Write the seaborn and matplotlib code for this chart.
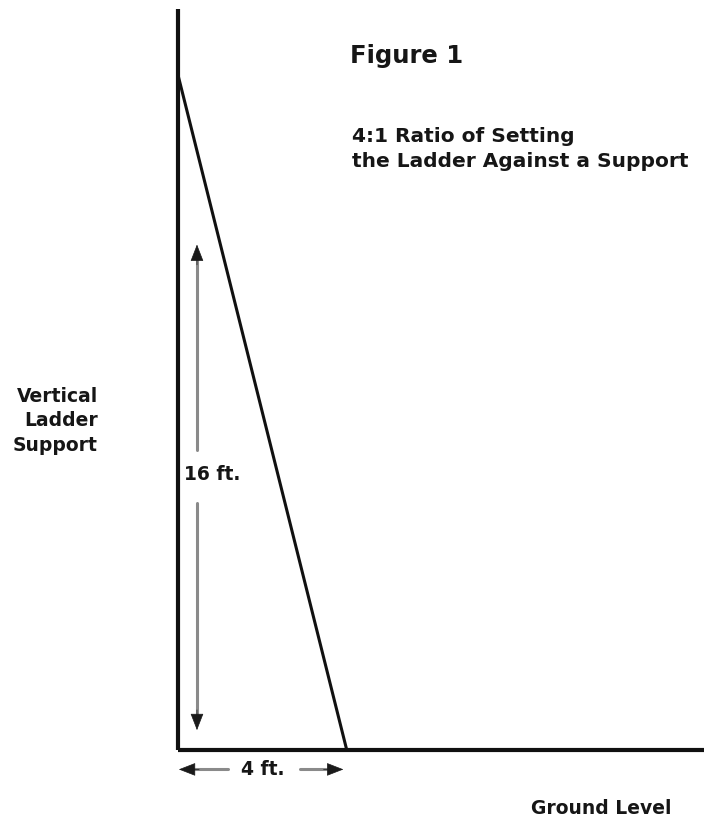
import matplotlib
matplotlib.use("Agg")
import matplotlib.pyplot as plt
import seaborn as sns

# ladder geometry in feet (4:1 ratio)
ladder_x = [0, 4]          # top of ladder against wall, foot of ladder on ground
ladder_y = [16, 0]
support_x = [0, 0]
support_y = [0, 17.56]
ground_x = [0, 12.47]
ground_y = [0, 0]

height_label = "16 ft."
base_label = "4 ft."

sns.set_theme(style="white")
plt.rcParams['font.family'] = ['DejaVu Sans']

fig = plt.figure(figsize=(7.13, 8.18), dpi=100)
ax = fig.add_axes([0, 0, 1, 1])

k = 42.19  # pixels per foot
ax.set_xlim(-178 / k, (713 - 178) / k)
ax.set_ylim(-68 / k, 750 / k)

# --- structure lines ---
sns.lineplot(x=support_x, y=support_y, sort=False, estimator=None,
             color="#111111", linewidth=3.0, ax=ax)
sns.lineplot(x=ground_x, y=ground_y, sort=False, estimator=None,
             color="#111111", linewidth=3.0, ax=ax)
sns.lineplot(x=ladder_x, y=ladder_y, sort=False, estimator=None,
             color="#111111", linewidth=2.2, ax=ax)
for ln in ax.lines:
    ln.set_solid_capstyle("butt")

# --- dimension arrows ---
shaft = "#8a8a8a"
head = "#1a1a1a"
txt = "#161616"

def arrow_head(x0, y0, x1, y1):
    ax.annotate("", xy=(x1, y1), xytext=(x0, y0),
                arrowprops=dict(arrowstyle="-|>,head_length=0.9,head_width=0.35",
                                color=head, lw=0.5, shrinkA=0, shrinkB=0))

# vertical arrow (16 ft.)
vx = 0.45
ax.plot([vx, vx], [7.1, 11.7], color=shaft, lw=2.2)
ax.plot([vx, vx], [0.75, 5.85], color=shaft, lw=2.2)
arrow_head(vx, 11.5, vx, 11.98)
arrow_head(vx, 0.95, vx, 0.47)
ax.text(0.14, 6.52, height_label, fontsize=13.5, fontweight="bold",
        ha="left", va="center", color=txt)

# horizontal arrow (4 ft.)
hy = -0.46
ax.plot([0.3, 1.18], [hy, hy], color=shaft, lw=2.2)
ax.plot([2.88, 3.65], [hy, hy], color=shaft, lw=2.2)
arrow_head(0.5, hy, 0.02, hy)
arrow_head(3.45, hy, 3.92, hy)
ax.text(2.02, hy, base_label, fontsize=13.5, fontweight="bold",
        ha="center", va="center", color=txt)

# --- titles and labels ---
ax.text((350 - 178) / k, (750 - 56) / k, "Figure 1", fontsize=17.5,
        fontweight="bold", ha="left", va="center", color=txt)
ax.text((352 - 178) / k, (750 - 149) / k, "4:1 Ratio of Setting\nthe Ladder Against a Support",
        fontsize=14.5, fontweight="bold", ha="left", va="center", color=txt,
        linespacing=1.4)
ax.text((98 - 178) / k, (750 - 421) / k, "Vertical\nLadder\nSupport", fontsize=13.5,
        fontweight="bold", ha="right", va="center", multialignment="right",
        color=txt, linespacing=1.35)
ax.text((601 - 178) / k, (750 - 808) / k, "Ground Level", fontsize=13.5,
        fontweight="bold", ha="center", va="center", color=txt)

ax.set_axis_off()
fig.savefig("out.png", dpi=100, facecolor="white")
